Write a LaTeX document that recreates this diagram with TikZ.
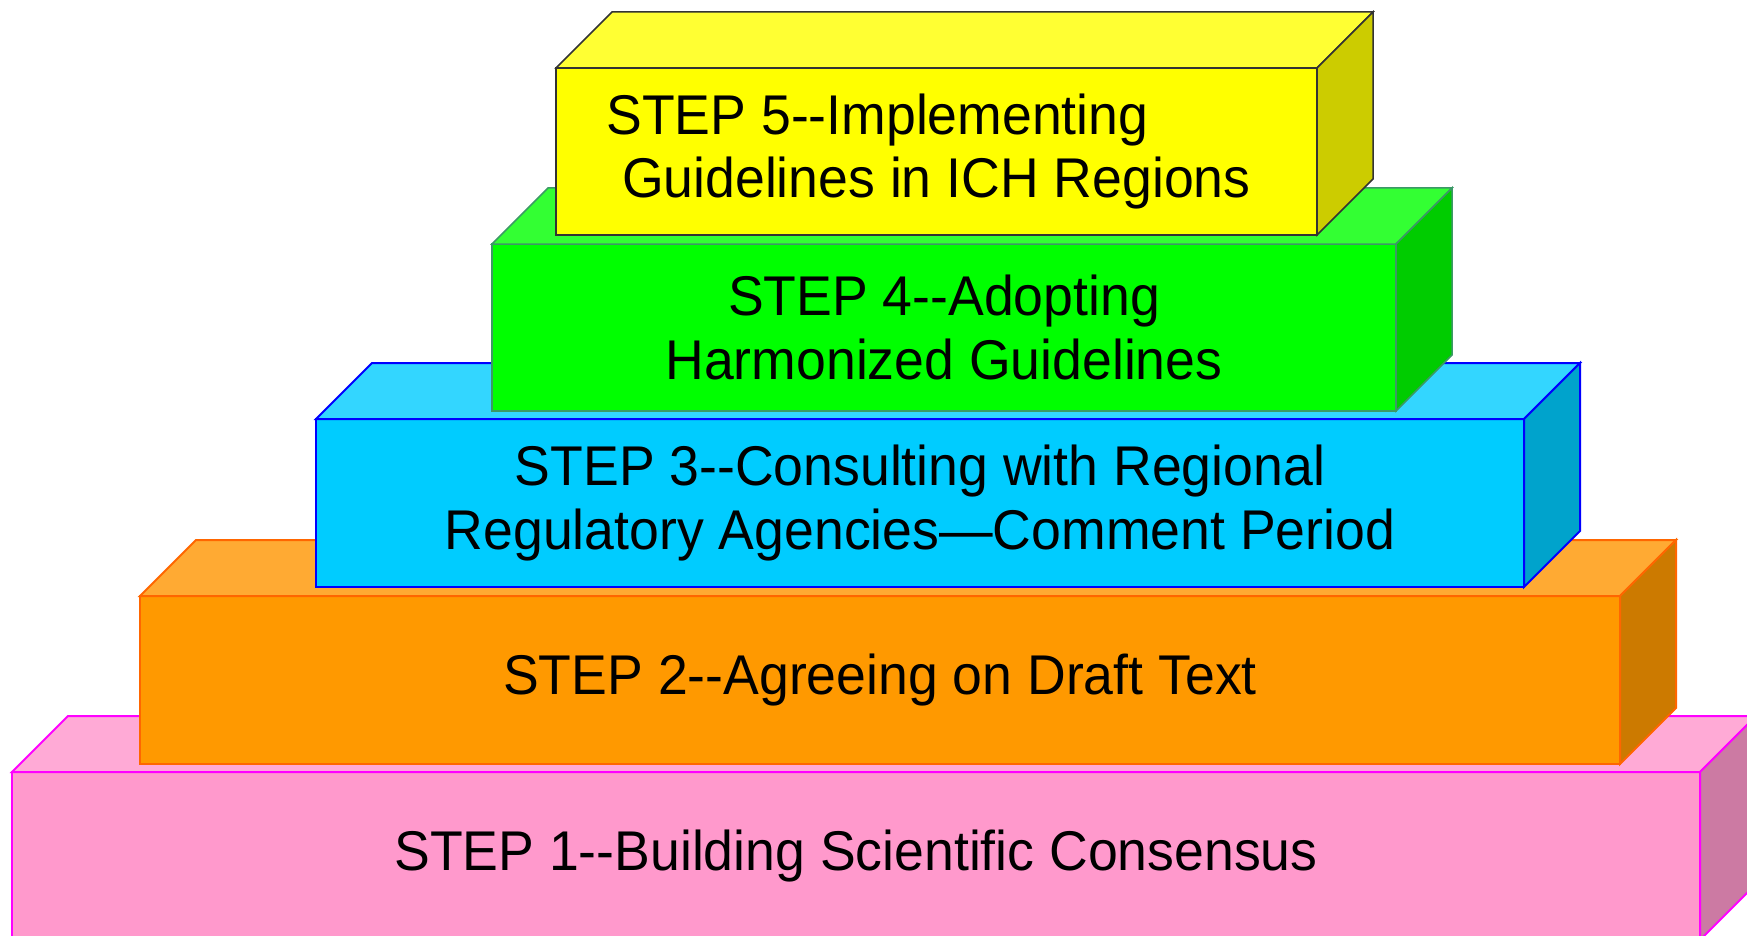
\documentclass[tikz,border=0pt]{standalone}
\usepackage{fontspec}
\setmainfont{Liberation Sans}[FakeStretch=0.957]
\usepackage{tikz}

% front, top and side shades of each block
\definecolor{pinkfront}{HTML}{FF99CC}
\definecolor{pinktop}{HTML}{FFAAD6}
\definecolor{pinkside}{HTML}{CC7AA3}
\definecolor{pinkline}{HTML}{FF00FF}
\definecolor{orangefront}{HTML}{FF9900}
\definecolor{orangetop}{HTML}{FFAA33}
\definecolor{orangeside}{HTML}{CC7A00}
\definecolor{orangeline}{HTML}{FF6600}
\definecolor{cyanfront}{HTML}{00CCFF}
\definecolor{cyantop}{HTML}{33D6FF}
\definecolor{cyanside}{HTML}{00A3CC}
\definecolor{cyanline}{HTML}{0000FF}
\definecolor{greenfront}{HTML}{00FF00}
\definecolor{greentop}{HTML}{33FF33}
\definecolor{greenside}{HTML}{00CC00}
\definecolor{greenline}{HTML}{3C9966}
\definecolor{yellowfront}{HTML}{FFFF00}
\definecolor{yellowtop}{HTML}{FFFF33}
\definecolor{yellowside}{HTML}{CCCC00}
\definecolor{yellowline}{HTML}{333333}

\begin{document}
\begin{tikzpicture}[x=1pt,y=-1pt,
  front/.style={draw, line width=2pt, inner sep=0pt, outer sep=0pt, minimum height=168pt,
    align=center, font=\fontsize{56}{63.5}\selectfont},
  face/.style={line width=2pt, line join=miter}]
\clip (0,0) rectangle (1747,936);

% step 1
\node[front, draw=pinkline, fill=pinkfront, minimum width=1688pt] (s1) at (856,856) {STEP 1-{}-Building Scientific Consensus};
\filldraw[face, draw=pinkline, fill=pinktop] (s1.north west) -- ++(56,-56) -- ++(1688,0) -- (s1.north east) -- cycle;
\filldraw[face, draw=pinkline, fill=pinkside] (s1.north east) -- ++(56,-56) -- ++(0,168) -- (s1.south east) -- cycle;

% step 2
\node[front, draw=orangeline, fill=orangefront, minimum width=1480pt] (s2) at (880,680) {STEP 2-{}-Agreeing on Draft Text};
\filldraw[face, draw=orangeline, fill=orangetop] (s2.north west) -- ++(56,-56) -- ++(1480,0) -- (s2.north east) -- cycle;
\filldraw[face, draw=orangeline, fill=orangeside] (s2.north east) -- ++(56,-56) -- ++(0,168) -- (s2.south east) -- cycle;

% step 3
\node[front, draw=cyanline, fill=cyanfront, minimum width=1208pt] (s3) at (920,503) {STEP 3-{}-Consulting with Regional\\Regulatory Agencies—Comment Period};
\filldraw[face, draw=cyanline, fill=cyantop] (s3.north west) -- ++(56,-56) -- ++(1208,0) -- (s3.north east) -- cycle;
\filldraw[face, draw=cyanline, fill=cyanside] (s3.north east) -- ++(56,-56) -- ++(0,168) -- (s3.south east) -- cycle;

% step 4
\node[front, line width=1.5pt, draw=greenline, fill=greenfront, minimum width=904pt, minimum height=167pt] (s4) at (944,327.5) {STEP 4-{}-Adopting\\Harmonized Guidelines};
\filldraw[face, line width=1.5pt, draw=greenline, fill=greentop] (s4.north west) -- ++(56,-56) -- ++(904,0) -- (s4.north east) -- cycle;
\filldraw[face, line width=1.5pt, draw=greenline, fill=greenside] (s4.north east) -- ++(56,-56) -- ++(0,167) -- (s4.south east) -- cycle;

% step 5 (top)
\node[front, line width=1.5pt, draw=yellowline, fill=yellowfront, minimum width=761pt, minimum height=167pt, align=left] (s5) at (936.5,151.5) {STEP 5-{}-Implementing\\\hspace*{.28em}Guidelines in ICH Regions\hspace*{16pt}};
\filldraw[face, line width=1.5pt, draw=yellowline, fill=yellowtop] (s5.north west) -- ++(56,-56) -- ++(761,0) -- (s5.north east) -- cycle;
\filldraw[face, line width=1.5pt, draw=yellowline, fill=yellowside] (s5.north east) -- ++(56,-56) -- ++(0,167) -- (s5.south east) -- cycle;
\end{tikzpicture}
\end{document}
